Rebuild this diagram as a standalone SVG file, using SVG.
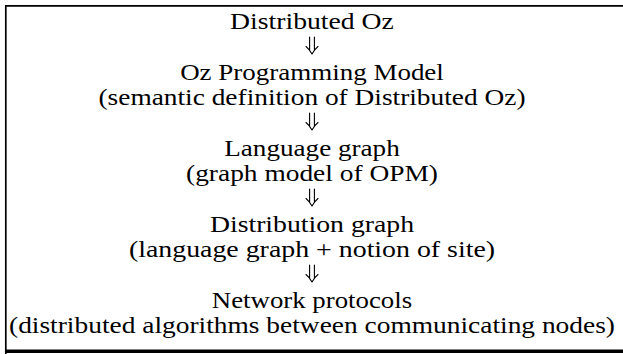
<svg xmlns="http://www.w3.org/2000/svg" width="623" height="354" viewBox="0 0 623 354">
  <style>
    .t { font-size: 22.5px; fill: #000; text-anchor: middle; }
    .frame { fill: none; stroke: #000; }
    .arr { fill: none; stroke: #000; stroke-width: 1.1; stroke-linecap: round; stroke-linejoin: round; }
  </style>
  <rect width="623" height="354" fill="#fff"/>

  <!-- frame: left and top edges, heavier bottom edge; right edge lies past the canvas -->
  <path class="frame" d="M5.8,354 V5.8 H623" stroke-width="1.7"/>
  <path class="frame" d="M5,351.3 H623" stroke-width="3.4"/>

  <g font-family="Liberation Serif, Times New Roman, DejaVu Serif, serif">
    <g id="distributed-oz">
      <text class="t" x="312" y="29" textLength="163.8" lengthAdjust="spacingAndGlyphs">Distributed Oz</text>
    </g>
    <g id="oz-programming-model">
      <text class="t" x="312" y="79.7" textLength="263.7" lengthAdjust="spacingAndGlyphs">Oz Programming Model</text>
      <text class="t" x="312" y="105" textLength="427" lengthAdjust="spacingAndGlyphs">(semantic definition of Distributed Oz)</text>
    </g>
    <g id="language-graph">
      <text class="t" x="312" y="155.7" textLength="175.5" lengthAdjust="spacingAndGlyphs">Language graph</text>
      <text class="t" x="312" y="181" textLength="251.9" lengthAdjust="spacingAndGlyphs">(graph model of OPM)</text>
    </g>
    <g id="distribution-graph">
      <text class="t" x="312" y="231.7" textLength="204.2" lengthAdjust="spacingAndGlyphs">Distribution graph</text>
      <text class="t" x="312" y="257" textLength="366.2" lengthAdjust="spacingAndGlyphs">(language graph + notion of site)</text>
    </g>
    <g id="network-protocols">
      <text class="t" x="312" y="307.7" textLength="200.3" lengthAdjust="spacingAndGlyphs">Network protocols</text>
      <text class="t" x="312" y="333" textLength="606" lengthAdjust="spacingAndGlyphs">(distributed algorithms between communicating nodes)</text>
    </g>
  </g>

  <!-- double down-arrows between the levels -->
  <g id="connectors">
    <defs>
      <path id="dbl-down" class="arr" d="M-2.4,0 V12.5 M2.4,0 V12.5 M-6,9.5 Q-2.3,12.5 0,17 Q2.3,12.5 6,9.5"/>
    </defs>
    <use href="#dbl-down" x="312" y="37"/>
    <use href="#dbl-down" x="312" y="113"/>
    <use href="#dbl-down" x="312" y="189"/>
    <use href="#dbl-down" x="312" y="265"/>
  </g>
</svg>
